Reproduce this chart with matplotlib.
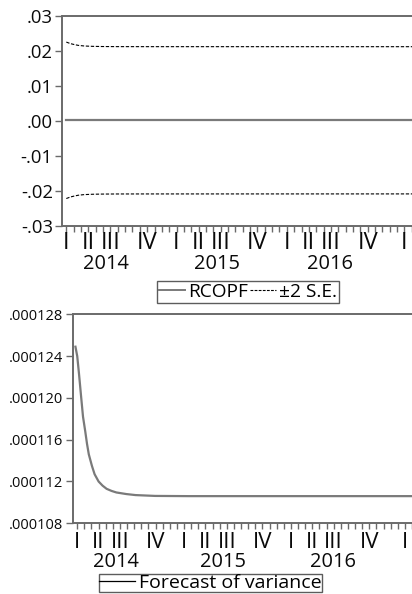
import matplotlib
matplotlib.use("Agg")
import matplotlib.pyplot as plt
from matplotlib.lines import Line2D

plt.rcParams['font.family'] = ['Open Sans', 'DejaVu Sans']

# ---------------- data ----------------
# observation index (16 observations per x tick)
obs_band = [0, 9, 18, 26, 39, 57, 77, 110, 175, 760]
upper_band = [0.02255, 0.02211, 0.02182, 0.02161, 0.02143, 0.02133, 0.02128, 0.02125, 0.02124, 0.02123]
lower_band = [-0.02215, -0.02171, -0.02142, -0.02121, -0.02103, -0.02093, -0.02088, -0.02085, -0.02084, -0.02083]
obs_rcopf = [0, 760]
rcopf = [0.0002, 0.0002]

obs_var = [-4, 0, 4, 9, 13, 18, 22, 26, 33, 39, 48, 57, 66, 77, 88, 110, 131, 175, 250, 400, 560, 760]
variance = [0.0001249, 0.0001240, 0.0001223, 0.0001200, 0.0001182, 0.0001168, 0.0001156, 0.0001146,
            0.0001135, 0.0001127, 0.0001120, 0.0001116, 0.0001113, 0.0001111, 0.00011095,
            0.0001108, 0.0001107, 0.00011062, 0.0001106, 0.0001106, 0.0001106, 0.0001106]

obs_per_tick = 16
quarter_labels = ["I", "II", "III", "IV", "I", "II", "III", "IV", "I", "II", "III", "IV", "I"]
quarter_tick_idx = [0, 3, 6, 11, 15, 18, 21, 26, 30, 33, 36, 41, 46]
years = ["2014", "2015", "2016"]
year_tick_pos = [5.4, 20.5, 35.9]

top_yticks = [0.03, 0.02, 0.01, 0.0, -0.01, -0.02, -0.03]
top_ylabels = [".03", ".02", ".01", ".00", "-.01", "-.02", "-.03"]
bot_yticks = [0.000128, 0.000124, 0.000120, 0.000116, 0.000112, 0.000108]
bot_ylabels = [".000128", ".000124", ".000120", ".000116", ".000112", ".000108"]

# ---------------- figure ----------------
W, H = 412, 594
fig = plt.figure(figsize=(W / 100, H / 100), dpi=100)

spine_col = '#6a6a6a'
line_gray = '#7a7a7a'
text_col = '#0a0a0a'


def px_axes(left, top, right, bottom):
    return fig.add_axes([left / W, 1 - bottom / H, (right - left) / W, (bottom - top) / H])


def style_axes(ax, ql_off, yr_off, qsize, ysize):
    for s in ['left', 'top', 'bottom']:
        ax.spines[s].set_color(spine_col)
        ax.spines[s].set_linewidth(1.4)
    ax.spines['right'].set_visible(False)
    ticks = [k * obs_per_tick for k in range(0, 48)]
    ax.set_xticks(ticks)
    ax.set_xticklabels([])
    ax.tick_params(axis='x', direction='out', length=4, width=1, color=spine_col)
    ax.tick_params(axis='y', direction='out', length=5, width=1, color=spine_col, pad=2)
    for lab, idx in zip(quarter_labels, quarter_tick_idx):
        ax.annotate(lab, xy=(idx * obs_per_tick, 0), xycoords=('data', 'axes fraction'),
                    xytext=(0, ql_off), textcoords='offset points', ha='center', va='center',
                    fontsize=qsize, color=text_col, annotation_clip=False)
    for lab, pos in zip(years, year_tick_pos):
        ax.annotate(lab, xy=(pos * obs_per_tick, 0), xycoords=('data', 'axes fraction'),
                    xytext=(0, yr_off), textcoords='offset points', ha='center', va='center',
                    fontsize=ysize, color=text_col, annotation_clip=False)


# ---- top panel ----
ax1 = px_axes(62.5, 16, 412, 226)
ax1.plot(obs_rcopf, rcopf, color=line_gray, lw=1.6)
ax1.plot(obs_band, upper_band, color='black', lw=0.8, ls=(0, (3, 1.5)))
ax1.plot(obs_band, lower_band, color='black', lw=0.8, ls=(0, (3, 1.5)))
ax1.set_ylim(-0.03, 0.03)
ax1.set_xlim((62.5 - 66.3) / 7.35 * obs_per_tick, (412 - 66.3) / 7.35 * obs_per_tick)
ax1.set_yticks(top_yticks)
ax1.set_yticklabels(top_ylabels, fontsize=13.3, color=text_col)
style_axes(ax1, -12.6, -27.2, 17, 14.4)

leg1 = fig.legend(handles=[Line2D([], [], color=line_gray, lw=1.4),
                           Line2D([], [], color='black', lw=0.8, ls=(0, (2.5, 1.2)))],
                  labels=["RCOPF", "±2 S.E."], ncol=2, loc='upper left',
                  bbox_to_anchor=(157 / W, 1 - 281 / H), borderaxespad=0,
                  fontsize=13.8, handlelength=1.35, handletextpad=0.15, columnspacing=0.15,
                  borderpad=0.1, fancybox=False, frameon=True)
leg1.get_frame().set_edgecolor('#333333')
leg1.get_frame().set_linewidth(1.0)

# ---- bottom panel ----
ax2 = px_axes(72.7, 314.3, 412, 523.3)
ax2.plot(obs_var, variance, color=line_gray, lw=1.6)
ax2.set_ylim(0.000108, 0.000128)
ax2.set_xlim((72.7 - 77.3) / 7.24 * obs_per_tick, (412 - 77.3) / 7.24 * obs_per_tick)
ax2.set_yticks(bot_yticks)
ax2.set_yticklabels(bot_ylabels, fontsize=10.5, color=text_col)
style_axes(ax2, -13.7, -27.9, 16, 14.4)

leg2 = fig.legend(handles=[Line2D([], [], color='black', lw=0.9)],
                  labels=["Forecast of variance"], loc='upper left',
                  bbox_to_anchor=(99.3 / W, 1 - 574.0 / H), borderaxespad=0,
                  fontsize=14.0, handlelength=1.85, handletextpad=0.2,
                  borderpad=0.0, fancybox=False, frameon=True)
leg2.get_frame().set_edgecolor('#333333')
leg2.get_frame().set_linewidth(1.0)

fig.savefig("out.png", dpi=100)
